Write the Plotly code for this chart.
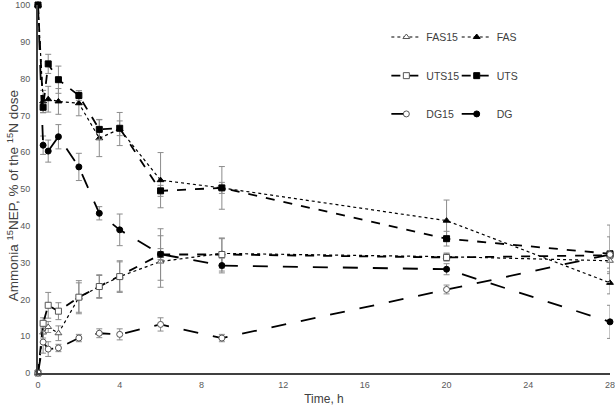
import plotly.graph_objects as go

time_h = [0, 0.25, 0.5, 1, 2, 3, 4, 6, 9, 20, 28]

fas15 = [0, 11.0, 12.5, 10.8, 20.5, 23.5, 26.2, 30.3, 32.5, 31.6, 30.5]
fas15_err = [0, 1.5, 1.5, 2.0, 4.0, 3.0, 4.0, 7.0, 4.0, 1.0, 2.0]
fas = [100, 73.8, 74.4, 73.8, 73.3, 63.8, 66.3, 52.4, 50.3, 41.4, 24.5]
fas_err = [0, 3.0, 3.5, 3.5, 3.4, 5.0, 4.5, 7.5, 1.5, 5.6, 3.0]

uts15 = [0, 13.5, 18.4, 16.8, 20.6, 23.5, 26.2, 32.2, 32.2, 31.4, 32.0]
uts15_err = [0, 1.5, 3.5, 2.3, 4.5, 3.2, 4.3, 7.0, 4.5, 1.0, 5.0]
uts = [100, 72.2, 84.0, 79.7, 75.4, 66.2, 66.5, 49.5, 50.3, 36.5, 32.4]
uts_err = [0, 1.5, 2.6, 3.7, 1.3, 2.7, 2.0, 1.5, 5.8, 2.0, 7.8]

dg15 = [0, 8.4, 6.5, 6.8, 9.5, 10.8, 10.5, 13.2, 9.5, 22.7, 32.2]
dg15_err = [0, 3.0, 2.0, 1.0, 1.0, 1.2, 1.5, 1.8, 1.0, 1.2, 1.0]
dg = [100, 61.9, 60.3, 64.2, 56.0, 43.4, 38.9, 32.3, 29.2, 28.2, 13.9]
dg_err = [0, 2.5, 3.0, 3.3, 3.7, 1.8, 4.3, 1.5, 2.0, 1.5, 4.5]

x_ticks = [0, 4, 8, 12, 16, 20, 24, 28]
y_ticks = [0, 10, 20, 30, 40, 50, 60, 70, 80, 90, 100]

ERR = "#8c8c8c"
LINE = "#000000"
TXT = "#404040"

fig = go.Figure()

def add(name, y, err, dash, width, symbol, filled, legend):
    fig.add_trace(go.Scatter(
        x=time_h, y=y, name=name, mode="lines+markers",
        line=dict(color=LINE, dash=dash, width=width),
        marker=dict(symbol=symbol, size=6,
                    color=LINE if filled else "white",
                    line=dict(color=LINE if filled else "#555555", width=1)),
        error_y=dict(type="data", array=err, visible=True, color=ERR,
                     thickness=1, width=3),
        cliponaxis=False, legend=legend, showlegend=True,
    ))

add("FAS15", fas15, fas15_err, "dot", 1.2, "triangle-up", False, "legend")
add("FAS", fas, fas_err, "dot", 1.2, "triangle-up", True, "legend2")
add("UTS15", uts15, uts15_err, "dash", 1.8, "square", False, "legend3")
add("UTS", uts, uts_err, "dash", 1.8, "square", True, "legend4")
add("DG15", dg15, dg15_err, "longdash", 1.8, "circle", False, "legend5")
add("DG", dg, dg_err, "longdash", 1.8, "circle", True, "legend6")

def leg(x, y):
    return dict(x=x, y=y, orientation="v", bgcolor="rgba(0,0,0,0)",
                font=dict(family="Liberation Sans", size=10.5, color=TXT),
                xanchor="left", yanchor="middle", itemwidth=30,
                tracegroupgap=0, visible=True)

col1, col2 = 0.609, 0.732
row1, row2, row3 = 0.913, 0.808, 0.704

fig.update_layout(
    width=615, height=408,
    showlegend=True,
    margin=dict(l=38, r=5, t=5, b=35),
    paper_bgcolor="white", plot_bgcolor="white",
    font=dict(family="Liberation Sans", size=10, color="#595959"),
    legend=leg(col1, row1), legend2=leg(col2, row1),
    legend3=leg(col1, row2), legend4=leg(col2, row2),
    legend5=leg(col1, row3), legend6=leg(col2, row3),
    xaxis=dict(range=[0, 28], tickvals=x_ticks, ticktext=[str(v) for v in x_ticks],
               showgrid=False, zeroline=False, showline=True, linecolor="#404040",
               linewidth=2, ticks="", automargin=False, ticklabelstandoff=2,
               ticklabeloverflow="allow",
               tickfont=dict(size=9, color="#595959"),
               title=dict(text="Time, h", font=dict(size=12, color=TXT), standoff=6)),
    yaxis=dict(range=[0, 100], tickvals=y_ticks, ticktext=[str(v) for v in y_ticks],
               showgrid=False, zeroline=False, showline=True, linecolor="#404040",
               linewidth=2, ticks="", automargin=False, ticklabelstandoff=4,
               ticklabeloverflow="allow",
               tickfont=dict(size=9, color="#595959")),
    annotations=[dict(text="Ammonia <sup>15</sup>NEP, % of the <sup>15</sup>N dose",
                      xref="paper", yref="paper", x=0, y=0.48, xshift=-25,
                      xanchor="center", yanchor="middle", textangle=-90,
                      showarrow=False, font=dict(size=13.5, color=TXT))],
)

fig.write_html("out.html", config={"displayModeBar": False},
               post_script="document.body.style.margin='0';")
